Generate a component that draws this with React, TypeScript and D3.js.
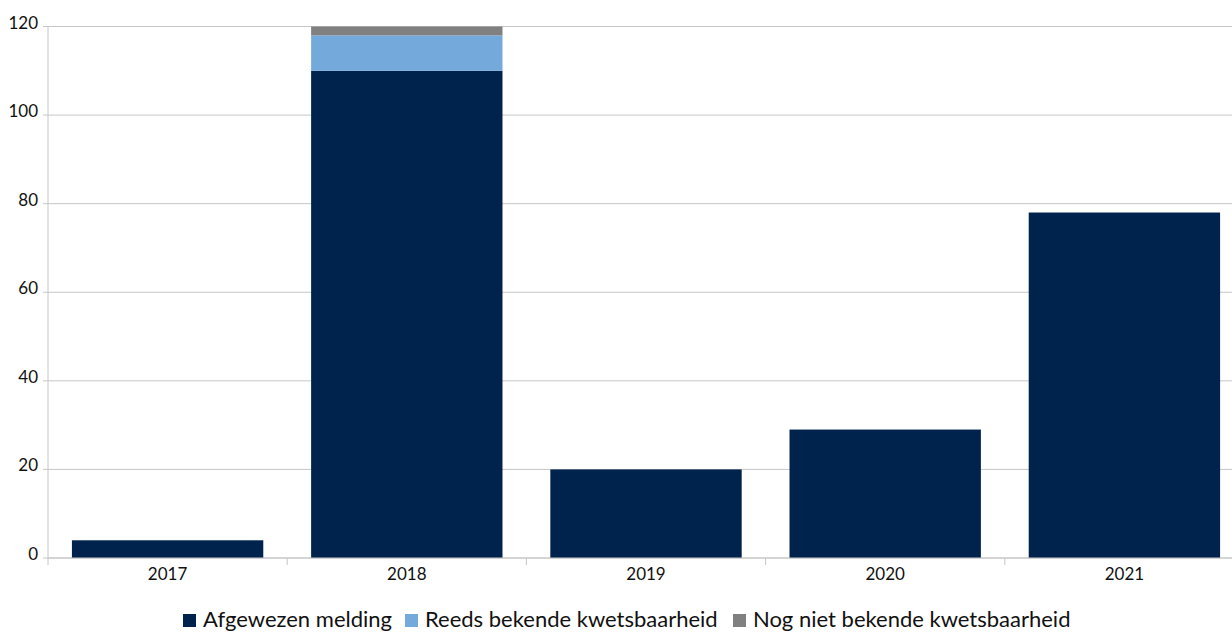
import React from "react";
import * as d3 from "d3";

const years = ["2017", "2018", "2019", "2020", "2021"];
const afgewezen = [4, 110, 20, 29, 78];
const reedsBekend = [0, 8, 0, 0, 0];
const nogNietBekend = [0, 2, 0, 0, 0];
const seriesNames = ["Afgewezen melding", "Reeds bekende kwetsbaarheid", "Nog niet bekende kwetsbaarheid"];
const seriesColors = ["#00234d", "#74a9dc", "#808080"];
const yTicks = [0, 20, 40, 60, 80, 100, 120];

const W = 1232;
const H = 633;
const FONT = "Lato, 'Open Sans', sans-serif";

export default function App() {
  const left = 48;
  const step = 239.2;
  const x = d3.scaleBand<string>().domain(years).range([left, left + step * years.length]).paddingInner(0.2).paddingOuter(0.1);
  const xb = d3.scaleBand<string>().domain(years).range([left, left + step * years.length]);
  const y = d3.scaleLinear().domain([0, 120]).range([558, 26.5]);

  const table = years.map((yr, i) => ({ year: yr, a: afgewezen[i], r: reedsBekend[i], n: nogNietBekend[i] }));
  const stack = d3.stack<any>().keys(["a", "r", "n"])(table);

  const legendX = [183, 405, 733];

  return (
    <svg width={W} height={H} style={{ position: "absolute", left: 0, top: 0, background: "#fff" }} fontFamily={FONT}>
      {yTicks.map((t) => (
        <g key={t}>
          <line x1={left - 5} x2={W} y1={y(t)} y2={y(t)} stroke="#c6c6c6" strokeWidth={1} />
          <text x={38} y={y(t) + 2} textAnchor="end" fontSize={17} fill="#111">
            {t}
          </text>
        </g>
      ))}
      {stack.map((s, si) =>
        s.map((d, i) =>
          d[1] - d[0] > 0 ? (
            <rect
              key={`${si}-${i}`}
              x={x(years[i])!}
              width={x.bandwidth()}
              y={y(d[1])}
              height={y(d[0]) - y(d[1])}
              fill={seriesColors[si]}
            />
          ) : null
        )
      )}
      <line x1={left} x2={left} y1={y(120)} y2={565} stroke="#c6c6c6" strokeWidth={1} />
      <line x1={left} x2={W} y1={y(0)} y2={y(0)} stroke="#c6c6c6" strokeWidth={1} />
      {years.map((yr) => (
        <line key={yr} x1={xb(yr)! + step} x2={xb(yr)! + step} y1={558} y2={565} stroke="#c6c6c6" />
      ))}
      {years.map((yr) => (
        <text key={yr} x={xb(yr)! + step / 2} y={580} textAnchor="middle" fontSize={17} fill="#111">
          {yr}
        </text>
      ))}
      {seriesNames.map((n, i) => (
        <g key={n}>
          <rect x={legendX[i]} y={614} width={13} height={13} fill={seriesColors[i]} />
          <text x={legendX[i] + 20} y={627} fontSize={22} fill="#111">
            {n}
          </text>
        </g>
      ))}
    </svg>
  );
}
